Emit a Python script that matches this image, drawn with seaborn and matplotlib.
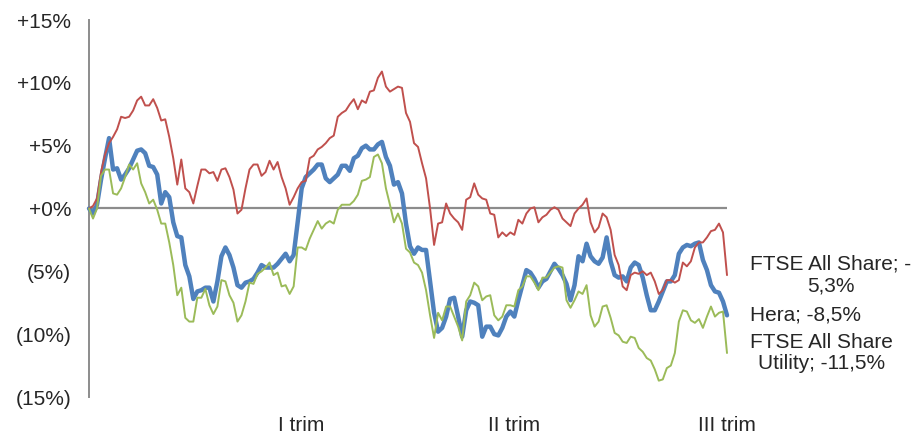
import matplotlib
matplotlib.use("Agg")
import matplotlib.pyplot as plt
import seaborn as sns
import pandas as pd
import numpy as np

# ---- data (percent change since start of year) ----
ftse_all_share = [0.0,0.2,0.8,2.9,4.3,5.2,5.7,6.3,7.3,7.2,
    7.3,7.8,8.6,8.9,8.2,8.2,8.7,8.0,7.0,7.1,
    5.7,4.0,1.9,3.9,1.6,1.3,0.4,1.8,3.1,3.1,
    2.8,2.9,2.2,3.1,3.2,2.5,1.5,-0.4,-0.1,1.6,
    3.1,3.5,3.5,2.6,2.9,3.8,3.1,3.7,2.5,1.6,
    0.3,0.9,1.6,2.1,2.2,4.0,4.2,4.7,4.9,5.2,
    5.6,5.8,7.3,7.6,7.8,8.3,8.7,7.9,8.6,8.4,
    9.3,9.4,10.4,10.9,9.7,9.3,9.5,9.7,9.6,7.6,
    6.9,5.2,4.9,3.6,2.4,0.0,-2.9,-1.2,-1.1,0.4,
    -0.4,-0.8,-1.1,-1.7,0.7,0.9,2.0,1.1,0.8,0.7,
    -0.4,-0.5,-2.3,-1.9,-2.2,-1.9,-2.1,-0.9,-1.2,-0.4,
    0.0,0.1,-1.1,-0.7,-0.5,-0.1,0.1,-0.1,-0.8,-1.1,
    -1.4,-0.4,0.0,0.3,0.8,-1.1,-1.9,-1.5,-0.4,-0.7,
    -1.7,-3.7,-4.5,-6.2,-6.5,-5.3,-5.1,-5.2,-5.0,-5.3,
    -5.1,-5.8,-6.8,-6.5,-5.7,-5.7,-5.9,-5.7,-4.3,-4.6,
    -4.2,-3.1,-2.7,-2.7,-2.3,-1.8,-1.7,-1.2,-1.9,-5.3]

hera = [0.0,-0.4,0.3,2.3,4.0,5.6,3.1,3.2,2.3,2.7,
    3.2,3.9,4.6,4.7,4.4,3.4,3.3,2.7,0.4,1.3,
    0.9,-1.1,-2.2,-2.3,-4.5,-5.4,-7.2,-6.6,-6.5,-6.3,
    -6.3,-7.4,-5.8,-3.8,-3.1,-3.7,-4.7,-6.1,-6.3,-5.9,
    -5.8,-5.6,-5.1,-4.5,-4.7,-4.7,-4.7,-4.4,-4.0,-3.6,
    -4.2,-3.7,-1.1,1.6,2.5,2.8,3.1,3.5,3.5,2.4,
    2.1,2.4,2.7,3.4,3.4,3.0,4.0,4.2,4.8,5.0,
    4.7,4.7,5.1,5.3,4.1,3.4,1.9,2.1,1.2,-1.2,
    -3.0,-3.6,-3.1,-3.3,-3.3,-5.8,-8.3,-9.8,-9.5,-8.6,
    -7.2,-7.1,-8.6,-10.2,-8.1,-7.4,-7.5,-7.7,-10.2,-9.4,
    -9.4,-10.0,-10.1,-9.5,-8.6,-8.2,-8.6,-7.3,-6.1,-4.9,
    -5.1,-5.6,-6.3,-5.8,-5.6,-5.0,-4.4,-4.8,-5.3,-6.0,
    -7.3,-6.1,-3.8,-4.2,-2.8,-3.8,-4.2,-4.4,-3.9,-2.3,
    -4.2,-5.3,-5.5,-5.4,-5.8,-4.7,-4.3,-4.5,-5.5,-6.9,
    -8.1,-8.1,-7.4,-6.6,-5.8,-5.8,-5.3,-3.6,-3.1,-2.9,
    -3.0,-2.8,-2.7,-4.1,-4.9,-6.1,-6.6,-6.7,-7.4,-8.5]

ftse_utility = [0.0,-0.8,0.0,2.6,3.1,3.1,1.2,1.1,1.6,2.5,
    3.5,3.1,3.6,2.0,1.3,0.4,0.7,-0.1,-1.2,-1.2,
    -2.7,-4.5,-6.9,-6.3,-8.7,-9.0,-9.0,-7.1,-7.1,-6.4,
    -7.7,-8.4,-7.8,-5.7,-5.8,-6.9,-7.5,-9.0,-8.5,-7.4,
    -5.9,-6.0,-5.2,-5.0,-4.7,-4.3,-5.3,-5.1,-6.2,-6.1,
    -6.8,-6.2,-3.1,-3.1,-3.3,-2.4,-1.7,-1.0,-1.6,-1.2,
    -1.0,-1.2,-0.1,0.3,0.3,0.3,0.6,1.1,2.2,2.3,
    2.5,4.1,4.3,3.6,1.6,0.3,-1.1,-0.4,-1.2,-3.2,
    -3.5,-4.3,-4.5,-5.1,-6.5,-8.5,-10.3,-8.3,-8.9,-7.8,
    -7.8,-8.6,-9.4,-10.5,-7.4,-6.9,-5.9,-6.2,-7.3,-7.0,
    -6.9,-8.5,-8.9,-8.6,-7.7,-7.7,-7.8,-6.5,-6.2,-5.4,
    -5.4,-5.9,-6.5,-5.5,-5.5,-5.1,-4.7,-4.6,-4.7,-7.3,
    -7.9,-7.3,-6.6,-6.8,-6.1,-8.5,-9.4,-9.0,-7.8,-7.7,
    -8.7,-9.9,-10.1,-10.6,-10.7,-10.2,-10.3,-11.1,-11.4,-11.9,
    -12.1,-12.8,-13.7,-13.6,-12.7,-12.5,-11.5,-9.0,-8.1,-8.2,
    -8.9,-9.1,-8.8,-9.5,-8.6,-7.8,-8.6,-8.3,-8.2,-11.5]

series_names = ["Hera", "FTSE All Share", "FTSE All Share Utility"]
end_labels = ["Hera; -8,5%", "FTSE All Share; -\n5,3%", "FTSE All Share\nUtility; -11,5%"]
quarter_labels = ["I trim", "II trim", "III trim"]
y_ticks = [-15, -10, -5, 0, 5, 10, 15]
y_tick_labels = ["(15%)", "(10%)", "(5%)", "+0%", "+5%", "+10%", "+15%"]

colors = {"Hera": "#4F81BD", "FTSE All Share": "#C0504D", "FTSE All Share Utility": "#9BBB59"}
widths = {"Hera": 3.2, "FTSE All Share": 1.4, "FTSE All Share Utility": 1.4}

values = {"Hera": hera, "FTSE All Share": ftse_all_share, "FTSE All Share Utility": ftse_utility}
n = len(hera)
df = pd.concat([pd.DataFrame({"day": np.arange(n), "value": values[s], "series": s}) for s in series_names])

sns.set_style("white")
plt.rcParams['font.family'] = ['Liberation Sans', 'DejaVu Sans']

fig = plt.figure(figsize=(9.18, 4.36), dpi=100)
ax = fig.add_axes([89/918, 39/436, 638/918, 377/436])

ax.axhline(0, color="#8C8C8C", lw=1.6, zorder=1)

for s in series_names:
    sub = df[df["series"] == s]
    sns.lineplot(data=sub, x="day", y="value", ax=ax, color=colors[s],
                 lw=widths[s], legend=False, zorder=3, clip_on=False)

ax.set_xlim(0, n - 1)
ax.set_ylim(-15, 15)
ax.set_yticks(y_ticks)
ax.set_yticklabels(y_tick_labels, fontsize=15)
q = (n - 1) / 3
ax.set_xticks([q, 2 * q, 3 * q])
ax.set_xticklabels(quarter_labels, fontsize=15)
ax.tick_params(axis="x", length=0, pad=14)
ax.tick_params(axis="y", length=4.2, width=1.2, color="#8C8C8C", pad=8.5, direction="out")
ax.set_xlabel("")
ax.set_ylabel("")
for side in ["top", "right", "bottom"]:
    ax.spines[side].set_visible(False)
ax.spines["left"].set_color("#8C8C8C")
ax.spines["left"].set_linewidth(1.4)

for s, lab in zip(series_names, end_labels):
    ax.annotate(lab, xy=(n - 1, values[s][-1]), xytext=(16.5, 0), textcoords="offset points",
                ha="left", va="center", multialignment="center", fontsize=15,
                linespacing=1.15, annotation_clip=False)

fig.savefig("out.png", dpi=100)
